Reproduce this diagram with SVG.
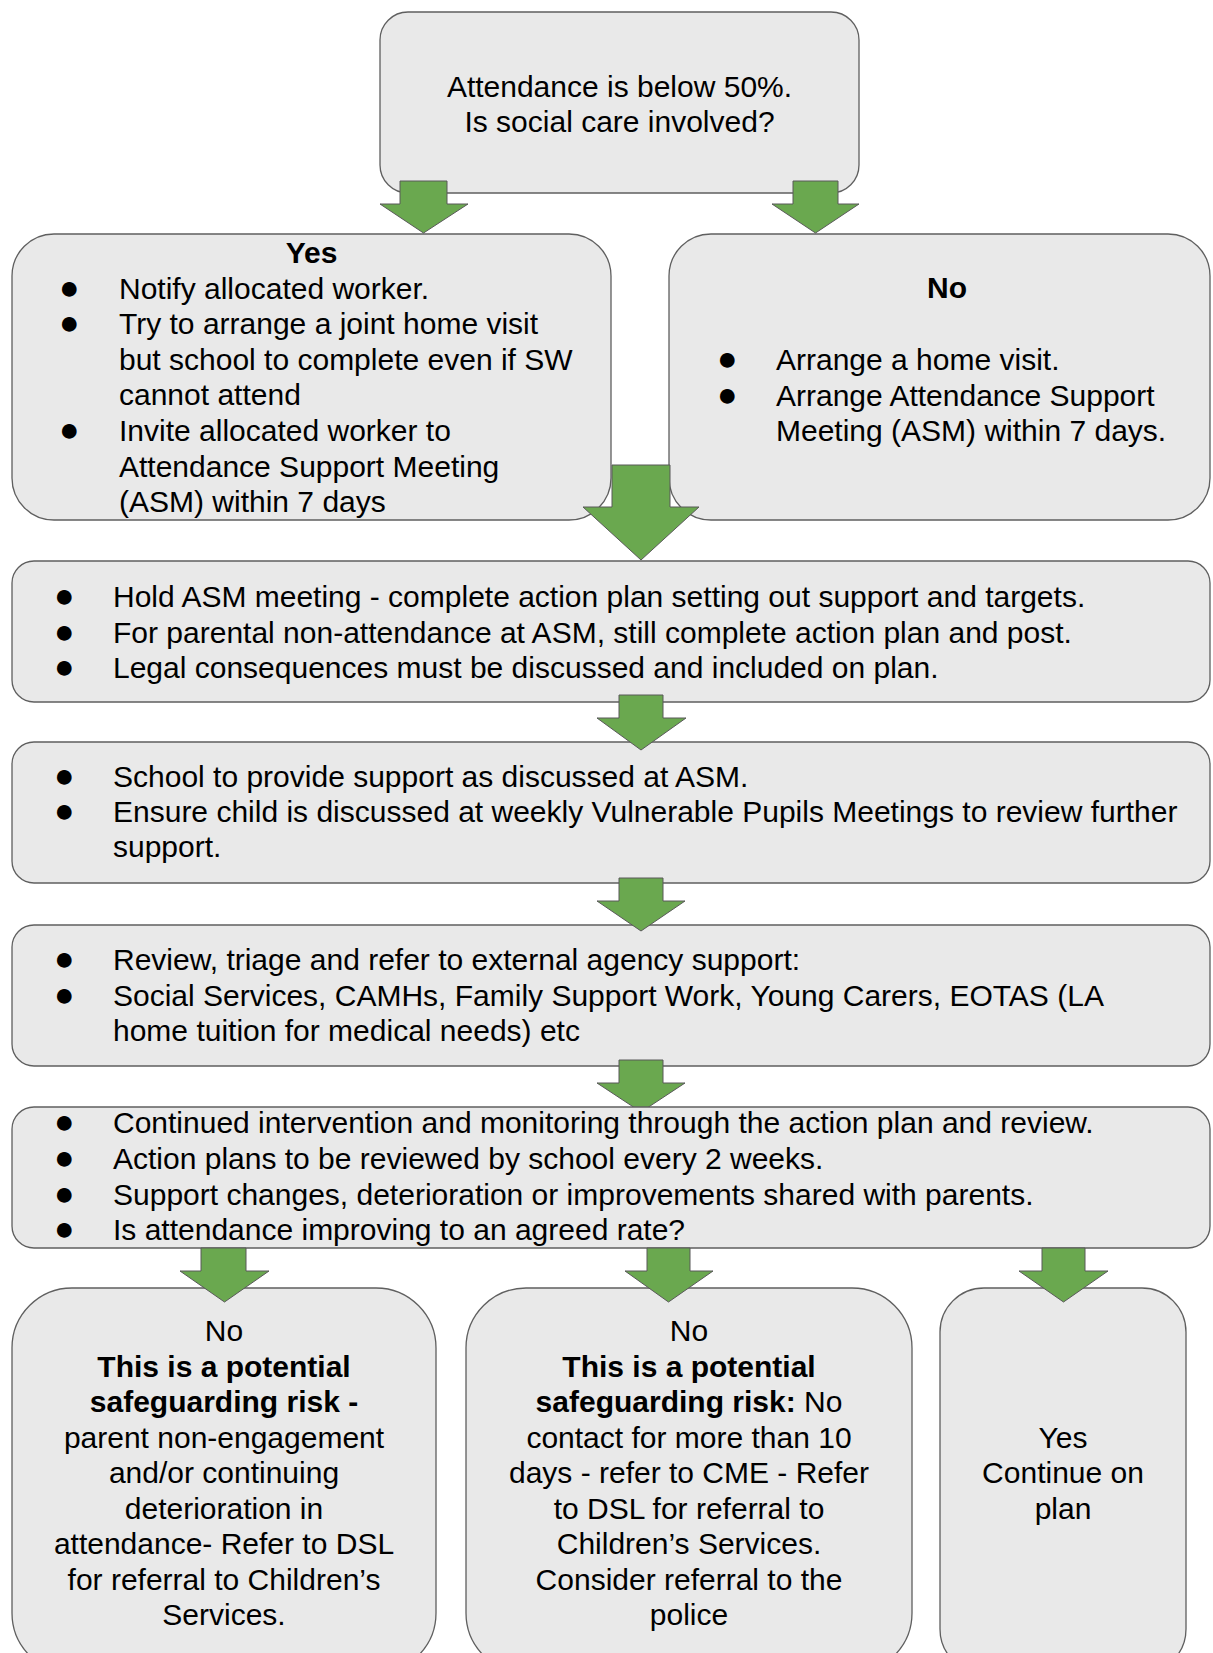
<svg xmlns="http://www.w3.org/2000/svg" width="1213" height="1653" viewBox="0 0 1213 1653">
<style>
.box{fill:#e9e9e9;stroke:#5f5f5f;stroke-width:1.3}
.arr{fill:#6aa84f;stroke:#595959;stroke-width:1}
text{font-family:"Liberation Sans",Arial,sans-serif;font-size:30px;fill:#000}
.c{text-anchor:middle}
.b{font-weight:bold}
.bul{font-size:34px}
</style>
<rect width="1213" height="1653" fill="#ffffff"/>
<g id="start">
<rect class="box" x="380" y="12" width="479" height="181" rx="28"/>
<text class="c" x="619.5" y="97">Attendance is below 50%.</text>
<text class="c" x="619.5" y="132">Is social care involved?</text>
</g>
<g id="yes">
<rect class="box" x="12" y="234" width="599" height="286" rx="42"/>
<text class="c b" x="311.5" y="263">Yes</text>
<text class="bul" x="59" y="298.6">●</text>
<text x="119" y="298.6">Notify allocated worker.</text>
<text class="bul" x="59" y="334.2">●</text>
<text x="119" y="334.2">Try to arrange a joint home visit</text>
<text x="119" y="369.8">but school to complete even if SW</text>
<text x="119" y="405.4">cannot attend</text>
<text class="bul" x="59" y="441">●</text>
<text x="119" y="441">Invite allocated worker to</text>
<text x="119" y="476.6">Attendance Support Meeting</text>
<text x="119" y="512.2">(ASM) within 7 days</text>
</g>
<g id="no">
<rect class="box" x="669" y="234" width="541" height="286" rx="42"/>
<text class="c b" x="947" y="298">No</text>
<text class="bul" x="717" y="370">●</text>
<text x="776" y="370">Arrange a home visit.</text>
<text class="bul" x="717" y="406">●</text>
<text x="776" y="406">Arrange Attendance Support</text>
<text x="776" y="441">Meeting (ASM) within 7 days.</text>
</g>
<g id="asm">
<rect class="box" x="12" y="561" width="1198" height="141" rx="22"/>
<text class="bul" x="54" y="607">●</text>
<text x="113" y="607">Hold ASM meeting - complete action plan setting out support and targets.</text>
<text class="bul" x="54" y="643">●</text>
<text x="113" y="643">For parental non-attendance at ASM, still complete action plan and post.</text>
<text class="bul" x="54" y="678">●</text>
<text x="113" y="678">Legal consequences must be discussed and included on plan.</text>
</g>
<g id="support">
<rect class="box" x="12" y="742" width="1198" height="141" rx="22"/>
<text class="bul" x="54" y="787">●</text>
<text x="113" y="787">School to provide support as discussed at ASM.</text>
<text class="bul" x="54" y="822">●</text>
<text x="113" y="822">Ensure child is discussed at weekly Vulnerable Pupils Meetings to review further</text>
<text x="113" y="857">support.</text>
</g>
<g id="review">
<rect class="box" x="12" y="925" width="1198" height="141" rx="22"/>
<text class="bul" x="54" y="970">●</text>
<text x="113" y="970">Review, triage and refer to external agency support:</text>
<text class="bul" x="54" y="1006">●</text>
<text x="113" y="1006">Social Services, CAMHs, Family Support Work, Young Carers, EOTAS (LA</text>
<text x="113" y="1041">home tuition for medical needs) etc</text>
</g>
<g id="connectors">
<polygon class="arr" points="400,181 447,181 447,204 468,204 423.5,233 380,204 400,204"/>
<polygon class="arr" points="793,181 838,181 838,204 859,204 815.5,233 772,204 793,204"/>
<polygon class="arr" points="612,465 670,465 670,507 699,507 641,560 583,507 612,507"/>
<polygon class="arr" points="619,695 663,695 663,718 686,718 641,750 597,718 619,718"/>
<polygon class="arr" points="619,878 663,878 663,901 685,901 641,931 597,901 619,901"/>
<polygon class="arr" points="619,1060 663,1060 663,1083 685,1083 641,1112 597,1083 619,1083"/>
</g>
<g id="monitor">
<rect class="box" x="12" y="1107" width="1198" height="141" rx="22"/>
<text class="bul" x="54" y="1133">●</text>
<text x="113" y="1133">Continued intervention and monitoring through the action plan and review.</text>
<text class="bul" x="54" y="1169">●</text>
<text x="113" y="1169">Action plans to be reviewed by school every 2 weeks.</text>
<text class="bul" x="54" y="1205">●</text>
<text x="113" y="1205">Support changes, deterioration or improvements shared with parents.</text>
<text class="bul" x="54" y="1240">●</text>
<text x="113" y="1240">Is attendance improving to an agreed rate?</text>
</g>
<g id="no-engagement">
<rect class="box" x="12" y="1288" width="424" height="385" rx="60"/>
<text class="c" x="224" y="1341">No</text>
<text class="c b" x="224" y="1377">This is a potential</text>
<text class="c b" x="224" y="1412">safeguarding risk -</text>
<text class="c" x="224" y="1448">parent non-engagement</text>
<text class="c" x="224" y="1483">and/or continuing</text>
<text class="c" x="224" y="1519">deterioration in</text>
<text class="c" x="224" y="1554">attendance- Refer to DSL</text>
<text class="c" x="224" y="1590">for referral to Children’s</text>
<text class="c" x="224" y="1625">Services.</text>
</g>
<g id="no-contact">
<rect class="box" x="466" y="1288" width="446" height="385" rx="60"/>
<text class="c" x="689" y="1341">No</text>
<text class="c b" x="689" y="1377">This is a potential</text>
<text class="c" x="689" y="1412"><tspan class="b">safeguarding risk:</tspan> No</text>
<text class="c" x="689" y="1448">contact for more than 10</text>
<text class="c" x="689" y="1483">days - refer to CME - Refer</text>
<text class="c" x="689" y="1519">to DSL for referral to</text>
<text class="c" x="689" y="1554">Children’s Services.</text>
<text class="c" x="689" y="1590">Consider referral to the</text>
<text class="c" x="689" y="1625">police</text>
</g>
<g id="continue">
<rect class="box" x="940" y="1288" width="246" height="385" rx="44"/>
<text class="c" x="1063" y="1448">Yes</text>
<text class="c" x="1063" y="1483">Continue on</text>
<text class="c" x="1063" y="1519">plan</text>
</g>
<g id="connectors-bottom">
<polygon class="arr" points="201,1248 246,1248 246,1271 269,1271 224.5,1302 180,1271 201,1271"/>
<polygon class="arr" points="647,1248 690,1248 690,1271 713,1271 668.5,1302 625,1271 647,1271"/>
<polygon class="arr" points="1042,1248 1085,1248 1085,1271 1108,1271 1063.5,1302 1019,1271 1042,1271"/>
</g>
</svg>
